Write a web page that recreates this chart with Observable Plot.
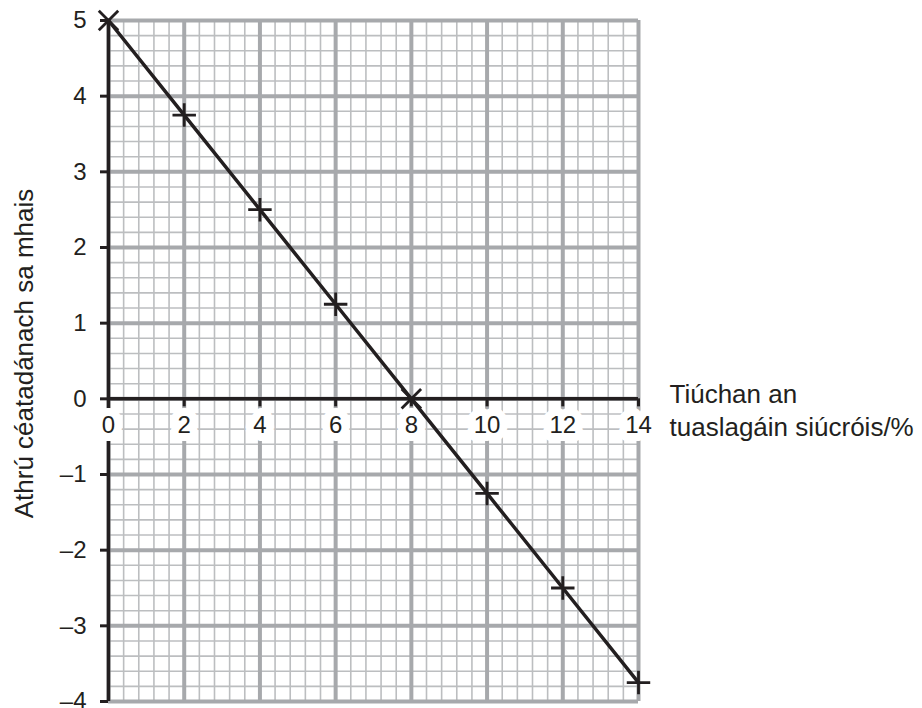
<!DOCTYPE html>
<html><head><meta charset="utf-8">
<script src="https://cdn.jsdelivr.net/npm/d3@7"></script>
<script src="https://cdn.jsdelivr.net/npm/@observablehq/plot@0.6"></script>
<style>body{margin:0;background:#fff}</style>
</head><body><div id="chart"></div>
<script>
// Data
const concentration = [0, 2, 4, 6, 8, 10, 12, 14];
const massChange = [5, 3.75, 2.5, 1.25, 0, -1.25, -2.5, -3.75];
const xTicks = [0, 2, 4, 6, 8, 10, 12, 14];
const yTicks = [-4, -3, -2, -1, 0, 1, 2, 3, 4, 5];
const xTitle = "Tiúchan an\ntuaslagáin siúcróis/%";
const yTitle = "Athrú céatadánach sa mhais";

const points = concentration.map((x, i) => ({x, y: massChange[i]}));
const xMinor = d3.range(36).map(i => +(i * 0.4).toFixed(1));
const yMinor = d3.range(46).map(i => +(-4 + i * 0.2).toFixed(1));

const ink = "#231f20";
const fmt = d => d < 0 ? "\u2013" + (-d) : String(d);

const chart = Plot.plot({
  width: 922,
  height: 708,
  marginLeft: 108,
  marginRight: 284,
  marginTop: 20,
  marginBottom: 7,
  style: {fontFamily: "'Liberation Sans', Arial, sans-serif", background: "white", color: ink},
  x: {domain: [0, 14], axis: null},
  y: {domain: [-4, 5], axis: null},
  marks: [
    // minor grid
    Plot.ruleX(xMinor, {x: d => d, stroke: "#bcbec0", strokeWidth: 1.6}),
    Plot.ruleY(yMinor, {y: d => d, stroke: "#bcbec0", strokeWidth: 1.6}),
    // major grid
    Plot.ruleX(xTicks, {x: d => d, stroke: "#a7a9ac", strokeWidth: 4}),
    Plot.ruleY(yTicks, {y: d => d, stroke: "#a7a9ac", strokeWidth: 4}),
    // axis lines
    Plot.ruleY([0], {y: d => d, stroke: ink, strokeWidth: 3.5}),
    Plot.ruleX([0], {x: d => d, stroke: ink, strokeWidth: 3.5}),
    // y axis ticks and labels
    Plot.axisY(yTicks, {
      tickSize: 8, tickPadding: 14, fontSize: 24, stroke: ink, fill: ink,
      strokeWidth: 3, tickFormat: fmt, label: null
    }),
    // x ticks on the x=0 line
    Plot.ruleX(xTicks.filter(d => d > 0), {
      x: d => d, y1: () => 0, y2: () => 0, insetBottom: -8, stroke: ink, strokeWidth: 3
    }),
    // x tick labels with white backing
    Plot.text(xTicks, {
      x: d => d, y: () => 0, text: d => fmt(d), dy: 26, fontSize: 24, fill: ink,
      stroke: "white", strokeWidth: 16, strokeLinejoin: "round", paintOrder: "stroke"
    }),
    // data line
    Plot.line(points, {x: "x", y: "y", stroke: ink, strokeWidth: 3.5}),
    Plot.dot(points.filter(d => d.x !== 0 && d.y !== 0), {
      x: "x", y: "y", symbol: "plus", r: 7.6, stroke: ink, strokeWidth: 2.8
    }),
    Plot.dot(points.filter(d => d.x === 0 || d.y === 0), {
      x: "x", y: "y", symbol: "times", r: 8.9, stroke: ink, strokeWidth: 2.8
    }),
    // titles
    Plot.text([xTitle], {
      frameAnchor: "right", y: () => 0, text: d => d, textAnchor: "start",
      lineAnchor: "top", lineHeight: 1.285, dx: 31, dy: -19.5, fontSize: 26, fill: ink
    }),
    Plot.text([yTitle], {
      frameAnchor: "left", text: d => d, rotate: -90, textAnchor: "middle",
      dx: -84, dy: -7.5, fontSize: 26, fill: ink
    })
  ]
});
document.getElementById("chart").appendChild(chart);
</script>
</body></html>
